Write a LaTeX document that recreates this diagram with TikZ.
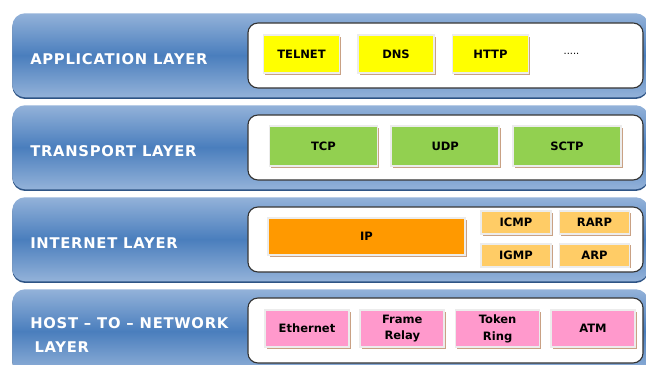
\documentclass[tikz,border=0pt]{standalone}
\usepackage{fontspec}
\usepackage{tikz}
\usetikzlibrary{positioning,shadows}

\newfontfamily\layerfont[LetterSpace=5]{DejaVu Sans}
\newfontfamily\protofont{DejaVu Sans}

\definecolor{bandlight}{HTML}{93B2D9}
\definecolor{banddark}{HTML}{4A7EBD}
\definecolor{bandedge}{HTML}{2E5485}
\definecolor{boxrim}{HTML}{ECECEC}
\definecolor{boxshade}{HTML}{C9A184}
\definecolor{appfill}{HTML}{FFFF00}
\definecolor{transfill}{HTML}{92D050}
\definecolor{ipfill}{HTML}{FF9900}
\definecolor{ctlfill}{HTML}{FFCC66}
\definecolor{linkfill}{HTML}{FF99CC}

\begin{document}
\begin{tikzpicture}[x=0.025cm,y=-0.025cm,
        band/.style={rectangle,rounded corners=0.32cm,minimum width=15.9cm,
          minimum height=2.1cm,anchor=north west,
          top color=bandlight,bottom color=bandlight,middle color=banddark,
          drop shadow={shadow xshift=0pt,shadow yshift=-1.2pt,fill=bandedge,opacity=1}},
        holder/.style={draw=black!80,line width=0.8pt,fill=white,rounded corners=0.25cm,
          minimum width=9.875cm,minimum height=1.625cm},
        layername/.style={anchor=west,text=white,align=left,inner sep=0pt,
          font=\layerfont\bfseries\fontsize{10.5}{17.5}\selectfont},
        proto/.style={draw=boxrim,line width=1.2pt,inner sep=0pt,align=center,
          font=\protofont\bfseries\fontsize{8.2}{12}\selectfont,
          drop shadow={shadow xshift=1.2pt,shadow yshift=-1.2pt,fill=boxshade,opacity=1}},
        app/.style={proto,fill=appfill,minimum width=1.9cm,minimum height=0.95cm},
        trans/.style={proto,fill=transfill,minimum width=2.7cm,minimum height=1cm},
        ctl/.style={proto,fill=ctlfill,minimum width=1.75cm,minimum height=0.575cm},
        link/.style={proto,fill=linkfill,minimum width=2.1cm,minimum height=0.925cm}]

  \useasboundingbox (0,0) rectangle (646,365);
  \begin{scope}
  \clip (0,0) rectangle (646,365);

  % layer bands
  \node[band] (appband)   at (12,13)  {};
  \node[band] (transband) at (12,105) {};
  \node[band] (inetband)  at (12,197) {};
  \node[band] (hostband)  at (12,289) {};

  \node[layername] (applbl)   at (30,59)  {APPLICATION LAYER};
  \node[layername] (translbl) at (30,151) {TRANSPORT LAYER};
  \node[layername] (inetlbl)  at (30,243) {INTERNET LAYER};
  \node[layername] (hostlbl)  at (30,335) {HOST – TO – NETWORK\\\hspace{3pt}LAYER};

  % white holders
  \node[holder] (appset)   at (445.5,55.5)  {};
  \node[holder] (transset) at (445.5,147.5) {};
  \node[holder] (inetset)  at (445.5,239.5) {};
  \node[holder] (hostset)  at (445.5,330.5) {};

  % application layer
  \node[app] (telnet) at (301.5,54) {TELNET};
  \node[app] (dns)  [right=0.42cm of telnet] {DNS};
  \node[app] (http) [right=0.42cm of dns]    {HTTP};
  \node[inner sep=0pt,font=\protofont\fontsize{7}{8}\selectfont] (more)
        [right=0.85cm of http] {.....};

  % transport layer
  \node[trans] (tcp) at (323.5,146) {TCP};
  \node[trans] (udp)  [right=0.3cm of tcp] {UDP};
  \node[trans] (sctp) [right=0.3cm of udp] {SCTP};

  % internet layer
  \node[proto,fill=ipfill,minimum width=4.925cm,minimum height=0.925cm]
        (ip) at (366.5,236.5) {IP};
  \node[ctl] (icmp) at (516,222.5) {ICMP};
  \node[ctl] (rarp) [right=0.17cm of icmp] {RARP};
  \node[ctl] (igmp) [below=0.2cm of icmp] {IGMP};
  \node[ctl] (arp)  [right=0.17cm of igmp] {ARP};

  % host-to-network layer
  \node[link] (ether) at (307,328.5) {Ethernet};
  \node[link] (frame) [right=0.24cm of ether] {Frame\\Relay};
  \node[link] (token) [right=0.24cm of frame] {Token\\Ring};
  \node[link] (atm)   [right=0.24cm of token] {ATM};
  \end{scope}

\end{tikzpicture}
\end{document}
